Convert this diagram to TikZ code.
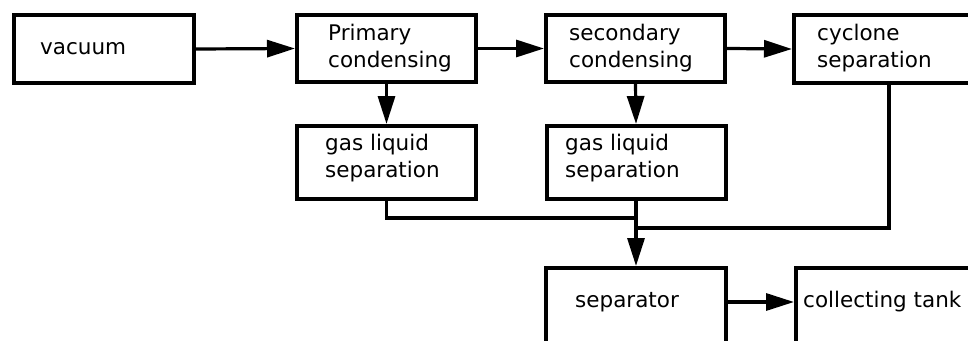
\documentclass[tikz,border=0pt]{standalone}
\usepackage{fontspec}
\setmainfont{DejaVu Sans}
\usetikzlibrary{arrows.meta}
\tikzset{
  box/.style={draw, line width=4pt, rectangle, anchor=north west, inner sep=0pt},
  lbl/.style={anchor=west, align=left, inner sep=0pt, font=\fontsize{21.5}{27}\selectfont},
  arr/.style={line width=3.2pt, -{Triangle[length=28pt,width=17pt]}},
  wire/.style={line width=3.2pt}
}
\begin{document}
\begin{tikzpicture}[x=1pt,y=-1pt]
\fill[white] (0,0) rectangle (968,340);
\useasboundingbox (0,0) rectangle (968,340);
\clip (0,0) rectangle (968,340);
% boxes
\node[box, minimum width=180pt, minimum height=68pt] (vac) at (12,13) {};
\node[box, minimum width=179pt, minimum height=67pt] (pri) at (295,13) {};
\node[box, minimum width=179pt, minimum height=67pt] (sec) at (544,13) {};
\node[box, minimum width=190pt, minimum height=68pt] (cyc) at (792,13) {};
\node[box, minimum width=179pt, minimum height=73pt] (gl1) at (295,124) {};
\node[box, minimum width=179pt, minimum height=73pt] (gl2) at (544.5,124) {};
\node[box, minimum width=180pt, minimum height=90pt] (sep) at (544,266) {};
\node[box, minimum width=190pt, minimum height=90pt] (tank) at (794,266) {};
% labels
\node[lbl] (vacT) at (40,49) {vacuum};
\node[lbl] (priT) at (328,48.5) {Primary\\condensing};
\node[lbl] (secT) at (569,48.5) {secondary\\condensing};
\node[lbl] (cycT) at (817,48.5) {cyclone\\separation};
\node[lbl] (gl1T) at (325,158.5) {gas liquid\\separation};
\node[lbl] (gl2T) at (565,158.5) {gas liquid\\separation};
\node[lbl] (sepT) at (575,302) {separator};
\node[lbl] (tankT) at (803,302) {collecting tank};
% junctions
\coordinate (j1) at (634,218);
\coordinate (j2) at (634,228);
% connectors
\draw[arr] (vac.east) -- (pri.west);
\draw[arr] (pri.east) -- (sec.west);
\draw[arr] (sec.east) -- (cyc.west);
\draw[arr] (pri.south) -- (gl1.north);
\draw[arr] (sec.south) -- (gl2.north);
\draw[wire] (gl1.south) |- (j1);
\draw[wire] (cyc.south) |- (j2);
\draw[arr] (gl2.south) -- (sep.north);
\draw[arr] (sep.east |- sepT) -- (tank.west |- sepT);
\end{tikzpicture}
\end{document}
